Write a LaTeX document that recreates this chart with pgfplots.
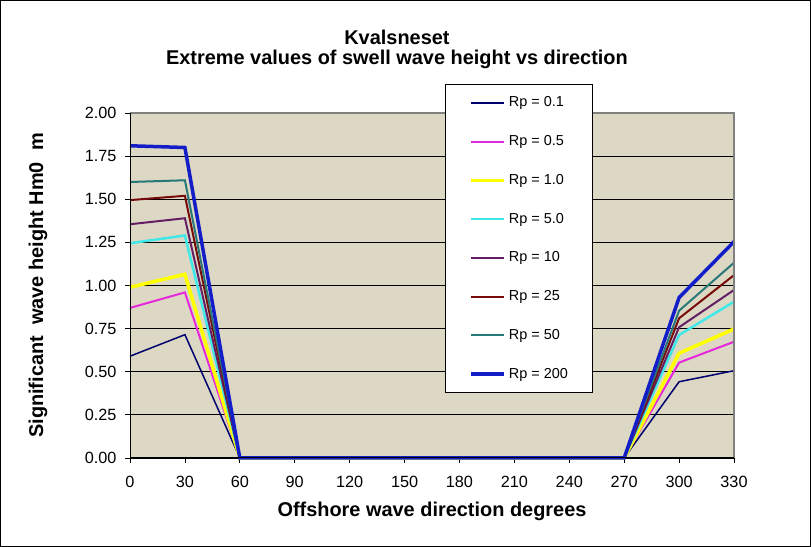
\documentclass[border=0pt]{standalone}
\usepackage{fontspec}
\setmainfont{Liberation Sans}
\usepackage{pgfplots}
\usepackage{pgfplotstable}
\pgfplotsset{compat=1.18}

\definecolor{plotbg}{RGB}{221,216,196}
\definecolor{cA}{RGB}{0,0,110}
\definecolor{cB}{RGB}{230,40,220}
\definecolor{cC}{RGB}{255,255,0}
\definecolor{cD}{RGB}{64,232,232}
\definecolor{cE}{RGB}{100,30,100}
\definecolor{cF}{RGB}{120,10,10}
\definecolor{cG}{RGB}{40,120,120}
\definecolor{cH}{RGB}{20,30,200}

% direction vs significant wave height for each return period
\pgfplotstableread{
dir  rp01  rp05  rp1   rp5   rp10  rp25  rp50  rp200
0    0.59  0.87  0.99  1.245 1.355 1.495 1.60  1.81
30   0.715 0.96  1.065 1.29  1.39  1.52  1.61  1.80
60   0     0     0     0     0     0     0     0
90   0     0     0     0     0     0     0     0
120  0     0     0     0     0     0     0     0
150  0     0     0     0     0     0     0     0
180  0     0     0     0     0     0     0     0
210  0     0     0     0     0     0     0     0
240  0     0     0     0     0     0     0     0
270  0     0     0     0     0     0     0     0
300  0.442 0.553 0.607 0.713 0.758 0.81  0.854 0.93
330  0.506 0.674 0.748 0.906 0.974 1.06  1.132 1.254
}\swell

\begin{document}
\begin{tikzpicture}
\useasboundingbox (0,0) rectangle (811bp,547bp);
\begin{axis}[
    at={(130bp,89bp)}, anchor=south west,
    scale only axis, width=604bp, height=345bp,
    xmin=0, xmax=330, ymin=0, ymax=2,
    xtick={0,30,...,330},
    ytick={0,0.25,...,2},
    /pgf/number format/assume math mode=true,
    tick pos=left, tick align=outside,
    major tick length=5bp,
    tick style={black, line width=0.8bp},
    ticklabel style={font=\fontsize{16.3}{18}\selectfont},
    xticklabel style={yshift=-10bp},
    yticklabel style={xshift=-5bp, /pgf/number format/.cd, fixed, fixed zerofill, precision=2},
    axis line style={draw=none},
    axis background/.style={fill=plotbg},
    ymajorgrids, major grid style={black, line width=0.8bp},
    clip=false,
    title={Kvalsneset\\Extreme values of swell wave height vs direction},
    title style={at={(axis description cs:0.442,1.167)}, anchor=center, align=center,
        font=\fontsize{20}{21}\bfseries},
    xlabel={Offshore wave direction degrees},
    xlabel style={at={(axis description cs:0.5,-0.1536)}, anchor=center,
        font=\fontsize{20}{22}\bfseries},
    ylabel={Significant\ \ wave height Hm0\ \ m},
    ylabel style={at={(axis description cs:-0.1523,0.5)}, anchor=center,
        font=\fontsize{20}{22}\bfseries},
    legend image code/.code={\draw[#1] (0bp,0bp) -- (33bp,0bp);},
    legend cell align=left,
    legend style={at={(0.5215,1.084)}, anchor=north west,
        draw=black, fill=white, line width=0.8bp,
        inner xsep=24bp, inner ysep=11.5bp, row sep=24.75bp,
        font=\fontsize{14.5}{16}\selectfont,
        nodes={inner sep=0pt, text height=11bp, text depth=3bp},
        /tikz/every odd column/.append style={column sep=3bp}},
]
\addplot[cA, line width=1.5bp] table[x=dir, y=rp01] {\swell};
\addplot[cB, line width=2bp] table[x=dir, y=rp05] {\swell};
\addplot[cC, line width=3.5bp] table[x=dir, y=rp1] {\swell};
\addplot[cD, line width=2.5bp] table[x=dir, y=rp5] {\swell};
\addplot[cE, line width=2bp] table[x=dir, y=rp10] {\swell};
\addplot[cF, line width=2bp] table[x=dir, y=rp25] {\swell};
\addplot[cG, line width=2bp] table[x=dir, y=rp50] {\swell};
\addplot[cH, line width=3.5bp] table[x=dir, y=rp200] {\swell};
\legend{Rp = 0.1, Rp = 0.5, Rp = 1.0, Rp = 5.0, Rp = 10, Rp = 25, Rp = 50, Rp = 200}
\draw[gray, line width=2bp] (rel axis cs:0,1) -- (rel axis cs:1,1) -- (rel axis cs:1,0);
\draw[black, line width=1bp] (rel axis cs:0,1) -- (rel axis cs:0,0) -- (rel axis cs:1,0);
\end{axis}
\draw[black, line width=1bp] (0.5bp,0.5bp) rectangle (810.5bp,546.5bp);
\end{tikzpicture}
\end{document}
